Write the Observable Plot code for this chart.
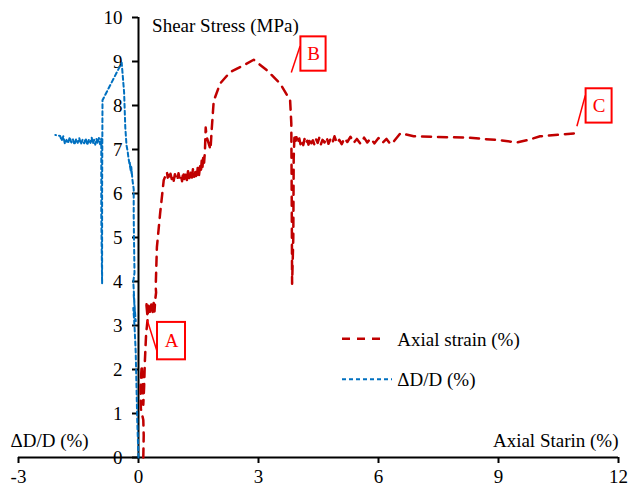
<!DOCTYPE html>
<html><head><meta charset="utf-8">
<script src="https://cdn.jsdelivr.net/npm/d3@7"></script>
<script src="https://cdn.jsdelivr.net/npm/@observablehq/plot@0.6"></script>
<style>
html,body{margin:0;padding:0;background:#fff}
svg, svg text { font-family: "Liberation Serif", "Times New Roman", serif !important; }
</style>
</head><body><div id="chart"></div>
<script>
// Axial strain (%) vs shear stress (MPa)
const axialStrainSeries = [
  [0.12,0.0],[0.13,0.5],[0.12,0.85],[0.06,1.1],[0.05,1.6],[0.08,2.1],[0.10,1.8],[0.12,1.2],[0.14,1.6],[0.16,2.2],[0.19,2.8],[0.24,3.25],
  [0.19,3.55],[0.22,3.25],[0.27,3.32],[0.25,3.45],[0.30,3.25],[0.32,3.48],[0.35,3.28],[0.38,3.52],[0.40,3.32],[0.42,3.6],[0.44,3.75],[0.43,3.87],
  [0.46,4.78],[0.54,5.54],[0.63,6.3],[0.71,6.49],
  [0.73,6.36],[0.75,6.42],[0.78,6.31],[0.80,6.45],[0.83,6.33],[0.86,6.40],[0.88,6.29],[0.91,6.44],[0.94,6.35],[0.97,6.30],[1.00,6.46],
  [1.03,6.34],[1.06,6.41],[1.09,6.28],[1.12,6.50],[1.15,6.33],[1.18,6.44],[1.21,6.30],[1.24,6.52],[1.27,6.35],[1.30,6.47],[1.33,6.31],
  [1.36,6.55],[1.39,6.38],[1.42,6.49],[1.45,6.33],[1.48,6.58],[1.51,6.40],[1.54,6.62],
  [1.56,6.5],[1.58,6.75],[1.60,6.6],[1.62,6.85],[1.64,6.7],[1.66,6.95],[1.68,7.5],[1.70,7.3],[1.75,7.15],[1.80,7.0],[1.83,7.45],
  [1.88,8.1],[2.04,8.5],[2.29,8.76],[2.62,8.91],[2.88,9.04],[3.21,8.8],[3.54,8.5],[3.79,8.12],[3.82,7.6],[3.83,6.0],[3.84,3.95],
  [3.87,5.0],[3.88,6.8],[3.90,7.35],[3.93,7.2],
  [3.95,7.28],[3.98,7.14],[4.02,7.25],[4.05,7.12],[4.08,7.22],[4.12,7.10],[4.15,7.24],[4.18,7.13],[4.22,7.20],[4.25,7.11],[4.29,7.26],
  [4.32,7.14],[4.36,7.21],[4.40,7.10],[4.44,7.23],[4.48,7.15],[4.52,7.27],[4.56,7.12],[4.60,7.22],[4.65,7.16],[4.70,7.28],[4.75,7.13],
  [4.80,7.24],[4.85,7.15],[4.90,7.30],[4.96,7.14],[5.02,7.22],[5.08,7.12],[5.15,7.26],[5.22,7.17],[5.30,7.29],[5.38,7.15],[5.46,7.24],
  [5.55,7.13],[5.64,7.27],[5.72,7.16],[5.80,7.25],[5.90,7.14],[6.00,7.26],[6.10,7.15],[6.20,7.24],[6.30,7.12],[6.38,7.18],
  [6.55,7.37],[6.88,7.30],[8.21,7.27],[9.04,7.21],[9.46,7.16],[9.71,7.21],[10.04,7.30],[10.96,7.37]
];
// ΔD/D (%) vs shear stress (MPa)
const diameterChangeSeries = [
  [0.00,0.0],[-0.03,0.8],[-0.05,1.6],[-0.07,2.4],[-0.10,3.0],[-0.13,3.4],[-0.07,3.1],[-0.12,3.7],[-0.09,3.3],[-0.13,4.0],[-0.10,4.2],
  [-0.11,4.8],[-0.12,5.5],[-0.12,6.1],[-0.15,6.3],[-0.18,6.6],[-0.16,6.4],[-0.22,6.7],[-0.19,6.5],[-0.25,6.8],[-0.27,6.95],[-0.30,7.1],
  [-0.33,7.5],[-0.36,8.3],[-0.42,8.97],[-0.90,8.12],[-0.91,6.0],[-0.91,3.95],[-0.93,5.5],[-0.93,7.25],
  [-0.96,7.12],[-0.99,7.26],[-1.02,7.14],[-1.05,7.24],[-1.08,7.11],[-1.11,7.22],[-1.14,7.13],[-1.17,7.27],[-1.20,7.15],[-1.24,7.23],
  [-1.28,7.10],[-1.32,7.25],[-1.36,7.14],[-1.40,7.22],[-1.44,7.12],[-1.48,7.26],[-1.52,7.15],[-1.56,7.24],[-1.60,7.11],[-1.64,7.23],
  [-1.68,7.16],[-1.72,7.28],[-1.76,7.14],[-1.80,7.22],[-1.84,7.13],[-1.88,7.30],[-1.92,7.20],[-1.96,7.31],[-2.08,7.33]
];
const xTicks = [-3, 0, 3, 6, 9, 12];
const yTicks = [0, 1, 2, 3, 4, 5, 6, 7, 8, 9, 10];
const seriesNames = ["Axial strain (%)", "ΔD/D (%)"];
const annotationLabels = ["A", "B", "C"];
const annotationBoxes = [
  {label: annotationLabels[0], x1: 0.475, x2: 1.175, y1: 2.22, y2: 3.07, px: 0.22, py: 3.12, qx: 0.47, qy: 2.39},
  {label: annotationLabels[1], x1: 4.06, x2: 4.69, y1: 8.78, y2: 9.56, px: 3.82, py: 8.75, qx: 4.04, qy: 9.35},
  {label: annotationLabels[2], x1: 11.19, x2: 11.84, y1: 7.6, y2: 8.38, px: 10.96, py: 7.53, qx: 11.17, qy: 8.23}
];

const RED = "#C00000", BLUE = "#0070C0", ANN = "#FF0000";
const font = '"Liberation Serif", "Times New Roman", serif';
const T = {fontFamily: font, fontSize: 19};

const chart = Plot.plot({
  width: 630, height: 490,
  marginLeft: 18, marginRight: 12, marginTop: 17, marginBottom: 33,
  x: {domain: [-3, 12], axis: null},
  y: {domain: [0, 10], axis: null},
  style: {fontFamily: font, fontSize: "19px", color: "#000", background: "#fff"},
  marks: [
    // axes
    Plot.ruleY([0], {x1: -3, x2: 12, stroke: "#000", strokeWidth: 2}),
    Plot.axisX(xTicks, {tickSize: 6, tickPadding: 6, tickFormat: d => String(d), strokeWidth: 2, stroke: "#000", fill: "#000", ...T, label: null}),
    Plot.ruleX([0], {y1: 0, y2: 10, stroke: "#000", strokeWidth: 2}),
    Plot.ruleY(yTicks, {y: d => d, x1: -0.15, x2: 0, stroke: "#000", strokeWidth: 2}),
    Plot.text(yTicks, {x: 0, y: d => d, text: d => String(d), textAnchor: "end", dx: -16, fill: "#000", ...T}),
    // axis titles
    Plot.text(["Shear Stress (MPa)"], {x: 0.34, y: 9.8, text: d => d, textAnchor: "start", fill: "#000", ...T}),
    Plot.text(["ΔD/D (%)"], {x: -3, y: 0.37, dx: -8, text: d => d, textAnchor: "start", fill: "#000", ...T}),
    Plot.text(["Axial Starin (%)"], {x: 12, y: 0.37, text: d => d, textAnchor: "end", fill: "#000", ...T}),
    // series
    Plot.line(diameterChangeSeries, {x: d => d[0], y: d => d[1], stroke: BLUE, strokeWidth: 2, strokeDasharray: "4,3", curve: "linear"}),
    Plot.line(axialStrainSeries, {x: d => d[0], y: d => d[1], stroke: RED, strokeWidth: 2.5, strokeDasharray: "9,7", curve: "linear"}),
    // legend
    Plot.ruleY([2.70], {x1: 5.1, x2: 6.15, stroke: RED, strokeWidth: 2.5, strokeDasharray: "8,7"}),
    Plot.ruleY([1.78], {x1: 5.1, x2: 6.35, stroke: BLUE, strokeWidth: 2, strokeDasharray: "4,3"}),
    Plot.text([seriesNames[0]], {x: 6.47, y: 2.68, text: d => d, textAnchor: "start", fill: "#000", ...T}),
    Plot.text([seriesNames[1]], {x: 6.47, y: 1.76, text: d => d, textAnchor: "start", fill: "#000", ...T}),
    // annotations
    Plot.link(annotationBoxes, {x1: "px", y1: "py", x2: "qx", y2: "qy", stroke: ANN, strokeWidth: 1.5}),
    Plot.rect(annotationBoxes, {x1: "x1", x2: "x2", y1: "y1", y2: "y2", fill: "none", stroke: ANN, strokeWidth: 2}),
    Plot.text(annotationBoxes, {x: d => (d.x1 + d.x2) / 2, y: d => (d.y1 + d.y2) / 2, text: "label", fill: ANN, ...T})
  ]
});
document.getElementById("chart").appendChild(chart);
</script>
</body></html>
